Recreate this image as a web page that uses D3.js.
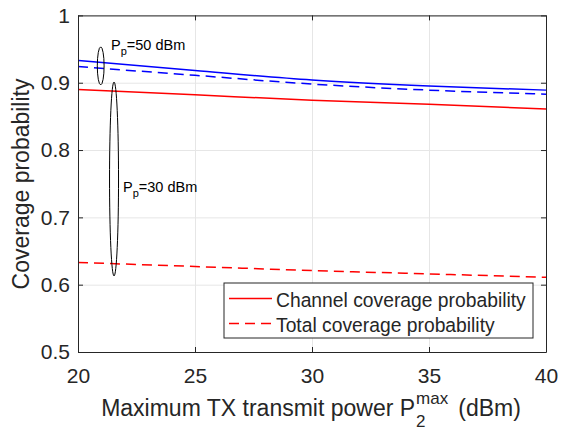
<!DOCTYPE html>
<html>
<head>
<meta charset="utf-8">
<script src="https://cdn.jsdelivr.net/npm/d3@7"></script>
<style>
body { margin: 0; background: #fff; }
text { font-family: "Liberation Sans", Arial, Helvetica, sans-serif; fill: #262626; }
</style>
</head>
<body>
<svg width="567" height="430"></svg>
<script>
// values
var power = [20, 25, 30, 35, 40];
var chanHigh = [0.933, 0.918, 0.904, 0.895, 0.889];   // Pp = 50 dBm, channel
var totalHigh = [0.924, 0.911, 0.898, 0.889, 0.883];  // Pp = 50 dBm, total
var chanLow = [0.890, 0.882, 0.874, 0.868, 0.861];    // Pp = 30 dBm, channel
var totalLow = [0.633, 0.627, 0.621, 0.616, 0.611];   // Pp = 30 dBm, total
var xTicks = [20, 25, 30, 35, 40];
var yTicks = [0.5, 0.6, 0.7, 0.8, 0.9, 1];
var yTickLabels = ["0.5", "0.6", "0.7", "0.8", "0.9", "1"];
var legendNames = ["Channel coverage probability", "Total coverage probability"];

var svg = d3.select("svg");
var plotL = 78, plotR = 546, plotT = 15.4, plotB = 352;

var x = d3.scaleLinear().domain([20, 40]).range([plotL, plotR]);
var y = d3.scaleLinear().domain([0.5, 1]).range([plotB, plotT]);

// grid
svg.append("g")
    .attr("transform", "translate(0," + plotB + ")")
    .call(d3.axisBottom(x).tickValues(xTicks).tickSize(-(plotB - plotT)).tickFormat(""))
    .call(function (g) { g.select(".domain").remove(); })
    .selectAll("line").attr("stroke", "#e6e6e6");
svg.append("g")
    .attr("transform", "translate(" + plotL + ",0)")
    .call(d3.axisLeft(y).tickValues(yTicks).tickSize(-(plotR - plotL)).tickFormat(""))
    .call(function (g) { g.select(".domain").remove(); })
    .selectAll("line").attr("stroke", "#e6e6e6");

// curves
var line = d3.line()
    .x(function (d) { return x(d[0]); })
    .y(function (d) { return y(d[1]); })
    .curve(d3.curveMonotoneX);

var series = [
    { vals: chanHigh, color: "#0000ff", dash: null },
    { vals: totalHigh, color: "#0000ff", dash: "10,6" },
    { vals: chanLow, color: "#ff0000", dash: null },
    { vals: totalLow, color: "#ff0000", dash: "10,6" }
];
series.forEach(function (s) {
    svg.append("path")
        .datum(d3.zip(power, s.vals))
        .attr("d", line)
        .attr("fill", "none")
        .attr("stroke", s.color)
        .attr("stroke-width", 1.5)
        .attr("stroke-dasharray", s.dash);
});

// axes (box with inward ticks)
var axisColor = "#262626";
var xb = svg.append("g")
    .attr("transform", "translate(0," + plotB + ")")
    .call(d3.axisBottom(x).tickValues(xTicks).tickSizeInner(-5).tickSizeOuter(0).tickPadding(16));
var yl = svg.append("g")
    .attr("transform", "translate(" + plotL + ",0)")
    .call(d3.axisLeft(y).tickValues(yTicks).tickSizeInner(-5).tickSizeOuter(0).tickPadding(8)
        .tickFormat(function (d, i) { return yTickLabels[i]; }));
var xt = svg.append("g")
    .attr("transform", "translate(0," + plotT + ")")
    .call(d3.axisTop(x).tickValues(xTicks).tickSizeInner(-5).tickSizeOuter(0).tickFormat(""));
var yr = svg.append("g")
    .attr("transform", "translate(" + plotR + ",0)")
    .call(d3.axisRight(y).tickValues(yTicks).tickSizeInner(-5).tickSizeOuter(0).tickFormat(""));
[xb, yl, xt, yr].forEach(function (g) {
    g.selectAll("path, line").attr("stroke", axisColor);
    g.selectAll("text").attr("font-size", 21).attr("font-family", null).attr("fill", axisColor);
});

// annotations
svg.append("ellipse")
    .attr("cx", x(20.97)).attr("cy", y(0.925))
    .attr("rx", 3.4).attr("ry", 19)
    .attr("fill", "none").attr("stroke", "#000");
svg.append("ellipse")
    .attr("cx", x(21.54)).attr("cy", y(0.757))
    .attr("rx", 4.5).attr("ry", 97)
    .attr("fill", "none").attr("stroke", "#000");

function ppLabel(px, py, txt) {
    var t = svg.append("text").attr("x", px).attr("y", py).attr("font-size", 14.5).style("fill", "#000");
    t.append("tspan").text("P");
    t.append("tspan").attr("dy", 5).attr("font-size", 11).text("p");
    t.append("tspan").attr("dy", -5).text(txt);
}
ppLabel(111, 50, "=50 dBm");
ppLabel(123, 192, "=30 dBm");

// legend
var lg = svg.append("g");
lg.append("rect")
    .attr("x", 224).attr("y", 283).attr("width", 309).attr("height", 55)
    .attr("fill", "#fff").attr("stroke", axisColor);
legendNames.forEach(function (name, i) {
    var ly = 298.5 + i * 25;
    lg.append("line")
        .attr("x1", 229).attr("x2", 272).attr("y1", ly).attr("y2", ly)
        .attr("stroke", "#ff0000").attr("stroke-width", 1.5)
        .attr("stroke-dasharray", i === 1 ? "10,6" : null);
    lg.append("text")
        .attr("x", 276).attr("y", ly + 8)
        .attr("font-size", 19.3)
        .text(name);
});

// axis labels
svg.append("text")
    .attr("transform", "translate(29,184) rotate(-90)")
    .attr("text-anchor", "middle")
    .attr("font-size", 23)
    .text("Coverage probability");

var xl = svg.append("g");
var main = xl.append("text").attr("x", 0).attr("y", 416).attr("font-size", 23)
    .text("Maximum TX transmit power P");
var w1 = main.node().getComputedTextLength();
var sup = xl.append("text").attr("x", w1 + 1).attr("y", 404).attr("font-size", 17).text("max");
var sub = xl.append("text").attr("x", w1 + 1).attr("y", 427).attr("font-size", 17).text("2");
var w2 = Math.max(sup.node().getComputedTextLength(), sub.node().getComputedTextLength());
var unit = xl.append("text").attr("x", w1 + 1 + w2 + 10).attr("y", 416).attr("font-size", 23).text("(dBm)");
var total = w1 + 1 + w2 + 10 + unit.node().getComputedTextLength();
xl.attr("transform", "translate(" + (311 - total / 2) + ",0)");
</script>
</body>
</html>
